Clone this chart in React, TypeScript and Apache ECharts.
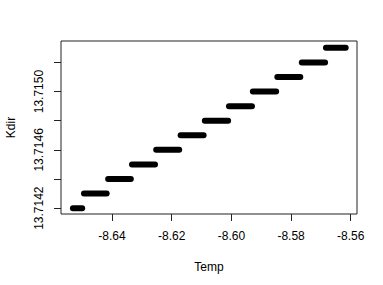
import React, { useEffect, useRef } from "react";
import * as echarts from "echarts";

// Step segments: Kdir level and the Temp range each covers
const kdirLevels = [13.7142, 13.7143, 13.7144, 13.7145, 13.7146, 13.7147, 13.7148, 13.7149, 13.715, 13.7151, 13.7152, 13.7153];
const tempStart = [-8.6531, -8.6494, -8.6413, -8.6333, -8.6252, -8.617, -8.6089, -8.6008, -8.5928, -8.5846, -8.5764, -8.5683];
const tempEnd = [-8.65, -8.6418, -8.6337, -8.6256, -8.6175, -8.6093, -8.6011, -8.5931, -8.585, -8.5769, -8.5686, -8.5617];

const xTicks = [-8.64, -8.62, -8.6, -8.58, -8.56];
const yTicks = [13.7142, 13.7144, 13.7146, 13.7148, 13.715, 13.7152];
const yLabels = [13.7142, 13.7146, 13.715];

const FONT = "'Liberation Sans', Arial, Helvetica, sans-serif";

export default function App() {
  const ref = useRef<HTMLDivElement>(null);
  useEffect(() => {
    if (!ref.current) return;
    const chart = echarts.init(ref.current, null, { renderer: "svg" });
    const series = kdirLevels.map((k, i) => ({
      type: "line",
      data: [
        [tempStart[i], k],
        [tempEnd[i], k],
      ],
      symbol: "none",
      silent: true,
      lineStyle: { color: "#000", width: 6, cap: "round" },
    }));
    chart.setOption({
      animation: false,
      grid: {
        left: 61,
        right: 26,
        top: 41,
        bottom: 71,
        containLabel: false,
        outerBoundsMode: "none",
        show: true,
        borderColor: "#222",
        borderWidth: 1,
        backgroundColor: "transparent",
      },
      xAxis: {
        type: "value",
        min: -8.6571,
        max: -8.5579,
        name: "Temp",
        nameLocation: "middle",
        nameGap: 47,
        nameTextStyle: { fontFamily: FONT, fontSize: 12, color: "#000" },
        axisLine: { show: false },
        splitLine: { show: false },
        axisTick: {
          show: true,
          length: 7,
          inside: false,
          customValues: xTicks,
          lineStyle: { color: "#222", width: 1 },
        },
        axisLabel: {
          customValues: xTicks,
          margin: 16,
          fontFamily: FONT,
          fontSize: 12,
          color: "#000",
          formatter: (v: number) => v.toFixed(2),
        },
      },
      yAxis: {
        type: "value",
        min: 13.71416,
        max: 13.715347,
        name: "Kdir",
        nameLocation: "middle",
        nameGap: 44,
        nameRotate: 90,
        nameTextStyle: { fontFamily: FONT, fontSize: 12, color: "#000" },
        axisLine: { show: false },
        splitLine: { show: false },
        axisTick: {
          show: true,
          length: 7,
          inside: false,
          customValues: yTicks,
          lineStyle: { color: "#222", width: 1 },
        },
        axisLabel: {
          customValues: yLabels,
          rotate: 90,
          margin: 16,
          fontFamily: FONT,
          fontSize: 12,
          color: "#000",
          formatter: (v: number) => v.toFixed(4),
        },
      },
      series,
    });
    return () => chart.dispose();
  }, []);
  return (
    <div
      ref={ref}
      style={{ position: "fixed", left: 0, top: 0, width: 383, height: 285, background: "#fff" }}
    />
  );
}
